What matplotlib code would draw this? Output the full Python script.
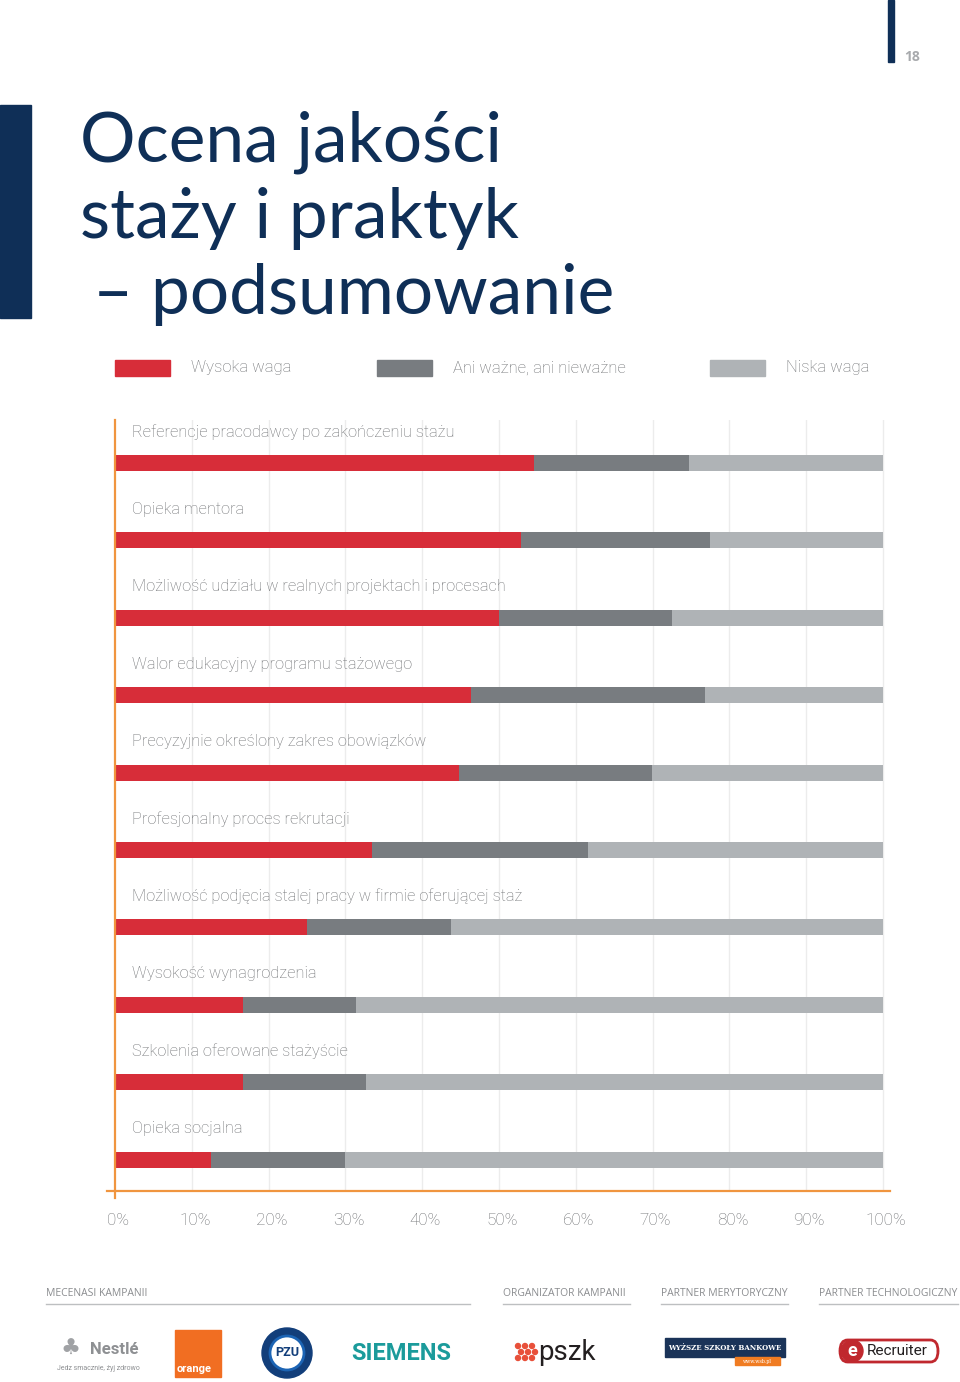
import numpy as np
import matplotlib
matplotlib.use('Agg')
import matplotlib.pyplot as plt
from matplotlib.patches import Rectangle, Ellipse, FancyBboxPatch
from matplotlib.transforms import ScaledTranslation

# dane (%)
categories = ['Referencje pracodawcy po zakończeniu stażu',
              'Opieka mentora',
              'Możliwość udziału w realnych projektach i procesach',
              'Walor edukacyjny programu stażowego',
              'Precyzyjnie określony zakres obowiązków',
              'Profesjonalny proces rekrutacji',
              'Możliwość podjęcia stalej pracy w firmie oferującej staż',
              'Wysokość wynagrodzenia',
              'Szkolenia oferowane stażyście',
              'Opieka socjalna']
wysoka = [54.6, 52.8, 50.0, 46.3, 44.8, 33.4, 25.0, 16.7, 16.7, 12.5]
ani = [20.1, 24.7, 22.5, 30.5, 25.1, 28.2, 18.8, 14.7, 16.0, 17.4]
niska = [100 - a - b for a, b in zip(wysoka, ani)]
series_names = ['Wysoka waga', 'Ani ważne, ani nieważne', 'Niska waga']
ticks = [0, 10, 20, 30, 40, 50, 60, 70, 80, 90, 100]
tick_labels = [str(t) + '%' for t in ticks]

RED = '#D72D39'
DGRAY = '#787C80'
LGRAY = '#AFB3B6'
ORANGE = '#F0953F'
NAVY = '#0F2F57'
TXT = '#6E7073'

W, H = 960, 1382
def fx(px):
    return px / W
def fy(py):
    return 1 - py / H

fig = plt.figure(figsize=(9.6, 13.82), dpi=100)

def circle(cx, cy, d, **kw):
    # kolo w pikselach -> elipsa we wspolrzednych figury
    fig.patches.append(Ellipse((fx(cx), fy(cy)), d / W, d / H, transform=fig.transFigure, **kw))

# pasek po lewej i linia u gory
fig.patches.append(Rectangle((0, fy(318)), fx(31), fy(105) - fy(318),
                             transform=fig.transFigure, color=NAVY))
fig.patches.append(Rectangle((fx(888), fy(62)), fx(6), fy(0) - fy(62),
                             transform=fig.transFigure, color=NAVY))
fig.text(fx(904), fy(57), '18', fontsize=10, color='#A8AAAD', fontweight='bold',
         family='Open Sans', va='center', ha='left')

# tytul
title_lines = ['Ocena jakości', 'staży i praktyk', '– podsumowanie']
title_x = [80, 80, 93]
for i, line in enumerate(title_lines):
    fig.text(fx(title_x[i]), fy(162 + i * 76), line, fontsize=50, color=NAVY,
             family='Lato', va='baseline', ha='left')

# legenda
leg_x = [115, 377, 710]
for x, c, name in zip(leg_x, [RED, DGRAY, LGRAY], series_names):
    fig.patches.append(Rectangle((fx(x), fy(376)), fx(55), fy(360) - fy(376),
                                 transform=fig.transFigure, color=c))
    fig.text(fx(x + 76), fy(368), name, fontsize=12, color=TXT, family='Roboto',
             fontweight='light', va='center', ha='left')

# wykres
ax_left, ax_right = 107, 890
ax_top, ax_bottom = 420, 1192
ax = fig.add_axes([fx(ax_left), fy(ax_bottom), fx(ax_right) - fx(ax_left), fy(ax_top) - fy(ax_bottom)])
px_per = 7.68
ax.set_xlim(-(115 - ax_left) / px_per, 100 + (ax_right - 883) / px_per)
step = 77.4
ax.set_ylim((ax_bottom - 463) / step, (ax_top - 463) / step)

y = np.arange(len(categories))
bh = 16 / step
ax.barh(y, wysoka, height=bh, color=RED, zorder=3)
ax.barh(y, ani, left=wysoka, height=bh, color=DGRAY, zorder=3)
ax.barh(y, niska, left=np.array(wysoka) + np.array(ani), height=bh, color=LGRAY, zorder=3)

for i, cat in enumerate(categories):
    ax.text(17 / px_per, i - 31 / step, cat, fontsize=11.8, color=TXT, family='Roboto',
            fontweight='light', va='center', ha='left')

for t in ticks[1:]:
    ax.axvline(t, color='#ECECEC', lw=1, zorder=1)
ax.axvline(0, color=ORANGE, lw=1.6, zorder=4, ymin=-6 / (ax_bottom - ax_top), ymax=1.0,
           clip_on=False)
ax.axhline((ax_bottom - 463) / step - 0.01, color=ORANGE, lw=1.6, zorder=4, clip_on=False)

for s in ax.spines.values():
    s.set_visible(False)
ax.set_yticks([])
ax.set_xticks(ticks)
ax.set_xticklabels(tick_labels, fontsize=12.3, color=TXT, family='Roboto', fontweight='light')
ax.tick_params(axis='x', length=0, pad=15)
shift = ScaledTranslation(3 / 100, 0, fig.dpi_scale_trans)
for lab in ax.get_xticklabels():
    lab.set_transform(lab.get_transform() + shift)

# stopka
footer = [('MECENASI KAMPANII', 46, 470), ('ORGANIZATOR KAMPANII', 503, 630),
          ('PARTNER MERYTORYCZNY', 661, 788), ('PARTNER TECHNOLOGICZNY', 819, 958)]
for txt, x0, x1 in footer:
    fig.text(fx(x0), fy(1293), txt, fontsize=7.5, color='#8A8C8F', family='Open Sans',
             va='center', ha='left')
    fig.lines.append(plt.Line2D([fx(x0), fx(x1)], [fy(1304), fy(1304)],
                                transform=fig.transFigure, color='#BDBFC1', lw=1))

# logotypy (tekstowo)
fig.text(fx(60), fy(1349), '\u2663', fontsize=16, color='#A0A2A5',
         family='DejaVu Sans', va='center', ha='left')
fig.text(fx(90), fy(1349), 'Nestlé', fontsize=12, color='#8E9093', fontweight='bold',
         family='Roboto', va='center', ha='left')
fig.text(fx(57), fy(1368), 'Jedz smacznie, żyj zdrowo', fontsize=5, color='#8E9093',
         family='Roboto', va='center', ha='left')
fig.patches.append(Rectangle((fx(175), fy(1377)), fx(46), fy(1330) - fy(1377),
                             transform=fig.transFigure, color='#F16E22'))
fig.text(fx(177), fy(1369), 'orange', fontsize=8, color='white', fontweight='bold',
         family='Roboto', va='center', ha='left')
circle(287, 1353, 50, color='#123E7A')
circle(287, 1353, 34, facecolor='white', edgecolor='#1C64B4', lw=2)
fig.text(fx(287), fy(1353), 'PZU', fontsize=9, color='#123E7A', fontweight='bold',
         family='Roboto', va='center', ha='center')
fig.text(fx(401), fy(1353), 'SIEMENS', fontsize=17, color='#1B9B9B', fontweight='bold',
         family='Roboto', va='center', ha='center')
for dx, dy in [(0, 0), (7, 0), (14, 0), (3, 6), (10, 6), (17, 6), (0, 12), (7, 12), (14, 12)]:
    circle(518 + dx, 1346 + dy, 5, color='#E8503A')
fig.text(fx(538), fy(1352), 'pszk', fontsize=20, color='#231F20',
         family='Roboto', va='center', ha='left')
fig.patches.append(Rectangle((fx(665), fy(1357)), fx(120), fy(1338) - fy(1357),
                             transform=fig.transFigure, color='#1A3358'))
fig.text(fx(725), fy(1347.5), 'WYŻSZE SZKOŁY BANKOWE', fontsize=5, color='white',
         fontweight='bold', family='DejaVu Serif', va='center', ha='center')
fig.patches.append(Rectangle((fx(735), fy(1365)), fx(45), fy(1357) - fy(1365),
                             transform=fig.transFigure, color='#F07C22'))
fig.text(fx(757), fy(1361), 'www.wsb.pl', fontsize=3.5, color='white',
         family='DejaVu Serif', va='center', ha='center')
fig.patches.append(FancyBboxPatch((fx(840), fy(1362)), fx(98), fy(1340) - fy(1362),
                                  boxstyle='round,pad=0,rounding_size=0.008',
                                  transform=fig.transFigure, facecolor='white',
                                  edgecolor='#C0282E', lw=2))
circle(852, 1351, 22, color='#C0282E')
fig.text(fx(852), fy(1351.5), 'e', fontsize=13, color='white', fontweight='bold',
         family='Roboto', va='center', ha='center')
fig.text(fx(867), fy(1351), 'Recruiter', fontsize=11, color='#231F20',
         family='Roboto', va='center', ha='left')

fig.savefig('out.png', dpi=100)
